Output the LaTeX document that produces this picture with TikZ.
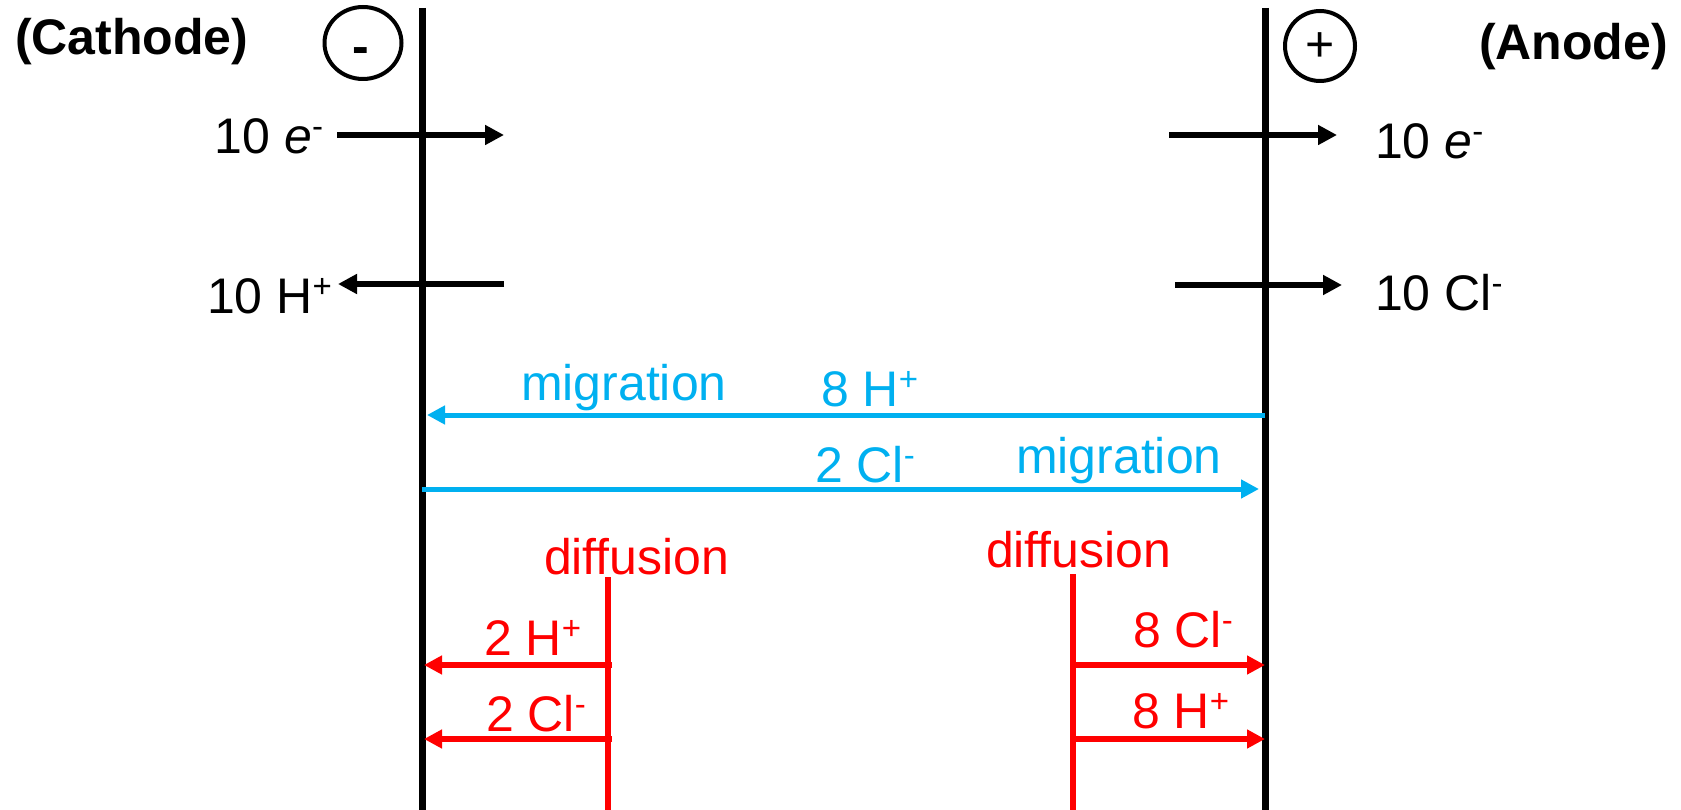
\documentclass[tikz,border=0pt]{standalone}
\usepackage{fontspec}
\setmainfont{Liberation Sans}
\usetikzlibrary{arrows.meta,shapes.geometric}
\definecolor{migblue}{HTML}{00B0F0}
\definecolor{diffred}{HTML}{FF0000}
% charge superscript, raised to cap height
\newcommand\chg[1]{\raisebox{16pt}{\fontsize{33}{40}\selectfont #1}}
\begin{document}
\begin{tikzpicture}[x=1pt,y=-1pt,
  txt/.style={font=\fontsize{50}{60}\selectfont, inner sep=0pt, outer sep=0pt},
  head/.style={txt, font=\fontsize{50}{60}\selectfont\bfseries},
  signring/.style={ellipse, draw, line width=4pt, inner sep=0pt},
  electrode/.style={line width=7pt},
  current/.style={line width=6pt, -{Triangle[length=19pt,width=19pt]}},
  migflux/.style={migblue, line width=5pt, -{Triangle[length=18pt,width=18pt]}},
  diffwall/.style={diffred, line width=6pt},
  diffflux/.style={diffred, line width=6pt, -{Triangle[length=18pt,width=18pt]}},
  mig/.style={txt, text=migblue},
  dif/.style={txt, text=diffred}]
\useasboundingbox (0,0) rectangle (1681,810);

% electrodes
\coordinate (cathTop) at (422,8);
\coordinate (cathBot) at (422,810);
\coordinate (anTop) at (1265,8);
\coordinate (anBot) at (1265,810);
\draw[electrode] (cathTop) -- (cathBot);
\draw[electrode] (anTop) -- (anBot);

% electrode labels and polarity marks
\node[head, anchor=base west] (cathode) at (15,55) {(Cathode)};
\node[head, anchor=base west] (anode) at (1479,60) {(Anode)};
\node[signring, minimum width=77pt, minimum height=72pt] (neg) at (363,43) {};
\node[txt, anchor=base] (negsign) at (361,64) {\bfseries -};
\node[signring, minimum width=70pt, minimum height=70pt] (pos) at (1320,46) {};
\node[txt, anchor=base] (possign) at (1320,62) {+};

% electrode reactions: cathode side
\node[txt, anchor=base east] (eL) at (323,154) {10 \textit{e}\chg{-}};
\node[txt, anchor=base east] (hL) at (332,313) {10 H\chg{+}};
\coordinate (eL0) at (337,135);
\coordinate (eL1) at (504,135);
\draw[current] (eL0) -- (eL1);
\coordinate (hL0) at (504,284);
\coordinate (hL1) at (338,284);
\draw[current] (hL0) -- (hL1);

% electrode reactions: anode side
\node[txt, anchor=base west] (eR) at (1375,159) {10 \textit{e}\chg{-}};
\node[txt, anchor=base west] (clR) at (1375,310) {10 Cl\chg{-}};
\coordinate (eR0) at (1169,135);
\coordinate (eR1) at (1337,135);
\draw[current] (eR0) -- (eR1);
\coordinate (clR0) at (1175,285);
\coordinate (clR1) at (1342,285);
\draw[current] (clR0) -- (clR1);

% migration
\node[mig, anchor=base west] (mig1) at (521,400) {migration};
\node[mig, anchor=base west] (migH) at (821,406) {8 H\chg{+}};
\coordinate (m1a) at (1265,415);
\coordinate (m1b) at (427,415);
\draw[migflux] (m1a) -- (m1b);
\node[mig, anchor=base west] (migCl) at (815,482) {2 Cl\chg{-}};
\node[mig, anchor=base west] (mig2) at (1016,473) {migration};
\coordinate (m2a) at (422,489);
\coordinate (m2b) at (1259,489);
\draw[migflux] (m2a) -- (m2b);

% diffusion fronts
\node[dif, anchor=base west] (dif1) at (544,574) {diffusion};
\node[dif, anchor=base west] (dif2) at (986,567) {diffusion};
\coordinate (wL0) at (608,577);
\coordinate (wL1) at (608,810);
\draw[diffwall] (wL0) -- (wL1);
\coordinate (wR0) at (1073,574);
\coordinate (wR1) at (1073,810);
\draw[diffwall] (wR0) -- (wR1);

% diffusion toward the cathode
\node[dif, anchor=base west] (dH2) at (484,655) {2 H\chg{+}};
\node[dif, anchor=base west] (dCl2) at (486,731) {2 Cl\chg{-}};
\coordinate (dL1a) at (612,665);
\coordinate (dL1b) at (424,665);
\draw[diffflux] (dL1a) -- (dL1b);
\coordinate (dL2a) at (612,739);
\coordinate (dL2b) at (424,739);
\draw[diffflux] (dL2a) -- (dL2b);

% diffusion toward the anode
\node[dif, anchor=base west] (dCl8) at (1133,647) {8 Cl\chg{-}};
\node[dif, anchor=base west] (dH8) at (1132,728) {8 H\chg{+}};
\coordinate (dR1a) at (1070,665);
\coordinate (dR1b) at (1265,665);
\draw[diffflux] (dR1a) -- (dR1b);
\coordinate (dR2a) at (1070,739);
\coordinate (dR2b) at (1265,739);
\draw[diffflux] (dR2a) -- (dR2b);
\end{tikzpicture}
\end{document}
